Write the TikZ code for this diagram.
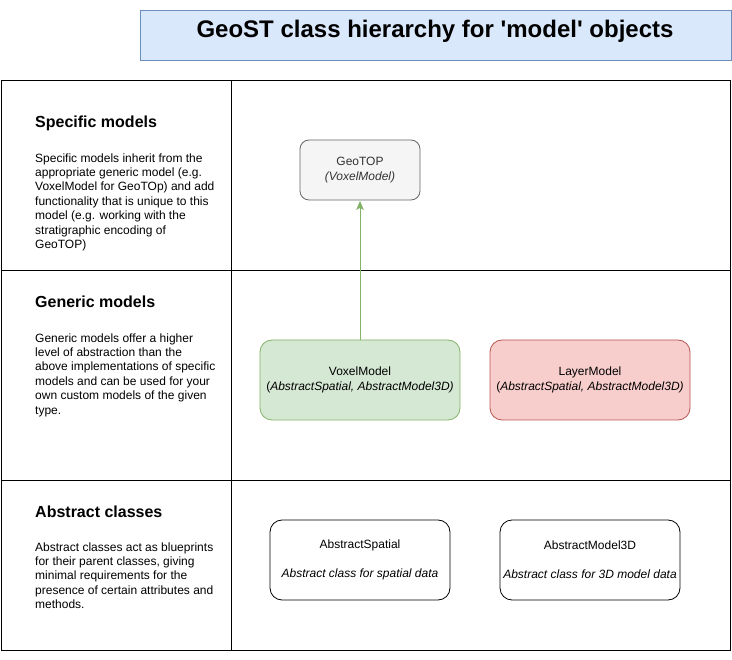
\documentclass[tikz,border=0pt]{standalone}
\usepackage{fontspec}
\setmainfont{Liberation Sans}
\usetikzlibrary{arrows.meta,positioning,shapes}

\definecolor{titlefill}{HTML}{DAE8FC}
\definecolor{titleline}{HTML}{6C8EBF}
\definecolor{greyfill}{HTML}{F5F5F5}
\definecolor{greyline}{HTML}{666666}
\definecolor{greytext}{HTML}{333333}
\definecolor{greenfill}{HTML}{D5E8D4}
\definecolor{greenline}{HTML}{82B366}
\definecolor{redfill}{HTML}{F8CECC}
\definecolor{redline}{HTML}{B85450}

\begin{document}
\begin{tikzpicture}[x=1pt,y=-1pt,
  every node/.style={align=center,font=\fontsize{12}{14.5}\selectfont},
  title/.style={draw=titleline,fill=titlefill,minimum width=591pt,minimum height=50pt,inner sep=0pt},
  heading/.style={anchor=base west,inner sep=0pt,font=\fontsize{16}{19}\selectfont\bfseries},
  descr/.style={anchor=north west,align=left,inner sep=0pt,font=\fontsize{12}{14.4}\selectfont},
  model/.style={draw,rounded corners=12pt,minimum width=200pt,minimum height=80pt,inner sep=0pt,line width=0.8pt},
  specific/.style={model,draw=greyline,fill=greyfill,text=greytext,rounded corners=9pt,minimum width=120pt,minimum height=60pt},
  generic/.style={model,draw=greenline,fill=greenfill},
  layer/.style={model,draw=redline,fill=redfill},
  abstract/.style={model,draw=black,minimum width=180pt},
  table/.style={line width=1pt},
  to/.style={->,>={Stealth[length=9pt,width=7.5pt,inset=2pt]},shorten >=0.5pt,line width=0.9pt,draw=greenline,fill=greenline}]

    \useasboundingbox (0,0) rectangle (732,660);

    % title
    \node[title](box) at (435.5,35){};
    \node[anchor=base,font=\fontsize{24}{28}\selectfont\bfseries](head) at (435,38){GeoST class hierarchy for \textquotesingle model\textquotesingle{} objects};

    % table
    \draw[table] (1.5,80.5) rectangle (730.5,650.5);
    \draw[table] (231,80.5) -- (231,650.5);
    \draw[table] (1.5,270.5) -- (730.5,270.5);
    \draw[table] (1.5,480.5) -- (730.5,480.5);

    % left column
    \node[heading](spec) at (35,128){Specific models};
    \node[descr](spectext) at (35,153.3){Specific models inherit from the\\
      appropriate generic model (e.g.\\
      VoxelModel for GeoTOp) and add\\
      functionality that is unique to this\\
      model (e.g. working with the\\
      stratigraphic encoding of\\
      GeoTOP)};

    \node[heading](gen) at (35,308){Generic models};
    \node[descr](gentext) at (35,333.3){Generic models offer a higher\\
      level of abstraction than the\\
      above implementations of specific\\
      models and can be used for your\\
      own custom models of the given\\
      type.};

    \node[heading](abs) at (35,518){Abstract classes};
    \node[descr](abstext) at (35,542.3){Abstract classes act as blueprints\\
      for their parent classes, giving\\
      minimal requirements for the\\
      presence of certain attributes and\\
      methods.};

    % classes
    \node[specific](geotop) at (360,170){GeoTOP\\\textit{(VoxelModel)}};
    \node[generic](voxel) at (360,380){VoxelModel\\(\textit{AbstractSpatial, AbstractModel3D)}};
    \node[layer](layer) at (590,380){LayerModel\\(\textit{AbstractSpatial, AbstractModel3D)}};
    \node[abstract](spatial) at (360,560){AbstractSpatial\\[14.5pt]\textit{Abstract class for spatial data}};
    \node[abstract](model3d) at (590,560){AbstractModel3D\\[14.5pt]\textit{Abstract class for 3D model data}};

    \draw[to](voxel) -- (geotop);
\end{tikzpicture}
\end{document}
